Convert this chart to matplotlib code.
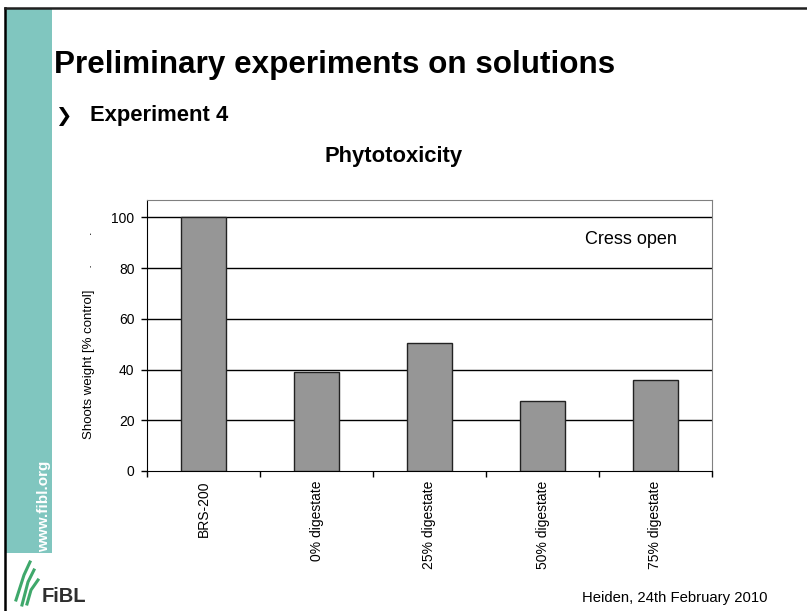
import matplotlib
matplotlib.use("Agg")
import matplotlib.pyplot as plt
from matplotlib.lines import Line2D
from matplotlib.patches import Rectangle

# ---- data ----
categories = ["BRS-200", "0% digestate", "25% digestate", "50% digestate", "75% digestate"]
values = [100, 38.9, 50.6, 27.7, 35.7]
yticks = [0, 20, 40, 60, 80, 100]

plt.rcParams['font.family'] = ['Liberation Sans', 'DejaVu Sans']

W, H = 807, 611
fig = plt.figure(figsize=(W / 100, H / 100), dpi=100)
fig.patch.set_facecolor("white")

def fx(x):
    return x / W

def fy(y):
    return 1 - y / H

# slide frame and sidebar
fig.add_artist(Rectangle((fx(6), fy(553)), fx(52) - fx(6), fy(9) - fy(553),
                         transform=fig.transFigure, facecolor="#80C6BF", edgecolor="none"))
fig.add_artist(Line2D([fx(4.5), fx(4.5)], [fy(8), 0], transform=fig.transFigure,
                      color="black", lw=1.8))
fig.add_artist(Line2D([fx(4.5), 1], [fy(8), fy(8)], transform=fig.transFigure,
                      color="#202020", lw=1.8))

# texts
fig.text(fx(54), fy(73), "Preliminary experiments on solutions", fontsize=22.6,
         fontweight="bold", ha="left", va="baseline")
fig.text(fx(55), fy(121), "\u276F", fontsize=14, fontweight="bold", ha="left",
         va="baseline", family=["DejaVu Sans"])
fig.text(fx(90), fy(121), "Experiment 4", fontsize=15.8, fontweight="bold",
         ha="left", va="baseline")
fig.text(fx(393.5), fy(162), "Phytotoxicity", fontsize=15.8, fontweight="bold",
         ha="center", va="baseline")
fig.text(fx(768), fy(602), "Heiden, 24th February 2010", fontsize=10.7,
         ha="right", va="baseline")
fig.text(fx(44.5), fy(552), "www.fibl.org", fontsize=11, fontweight="bold",
         color="white", rotation=90, ha="center", va="bottom")

# FiBL logo (simple)
for xs, ys in [([16, 24, 30], [600, 575, 562]), ([22, 28, 34], [605, 582, 570]),
               ([27, 31, 38], [604, 590, 580])]:
    fig.add_artist(Line2D([fx(v) for v in xs], [fy(v) for v in ys],
                          transform=fig.transFigure, color="#3FA86B", lw=2.2))
fig.text(fx(42), fy(602), "FiBL", fontsize=14.5, fontweight="bold", color="#2E2E2E",
         ha="left", va="baseline")

# chart
ax = fig.add_axes([147 / W, 1 - 471 / H, 565 / W, 271 / H])
x = list(range(len(categories)))
ax.bar(x, values, width=0.4, color="#969696", edgecolor="#222222", linewidth=1, zorder=3)

ax.set_xlim(-0.5, len(categories) - 0.5)
ax.set_ylim(0, 106.8)
ax.set_yticks(yticks)
ax.set_yticklabels([str(v) for v in yticks], fontsize=10)
for v in yticks[1:]:
    ax.axhline(v, color="black", lw=1, zorder=1)

ax.set_xticks([i - 0.5 for i in range(len(categories) + 1)])
ax.set_xticklabels([])
ax.set_xticks(x, minor=True)
ax.set_xticklabels(categories, minor=True, rotation=90, fontsize=10, va="top")
ax.tick_params(axis="x", which="minor", length=0, pad=7)
ax.tick_params(axis="x", which="major", length=4, direction="out", width=1)
ax.tick_params(axis="y", length=4, direction="out", width=1, pad=5)

for s in ["top", "right"]:
    ax.spines[s].set_color("#808080")
for s in ["left", "bottom"]:
    ax.spines[s].set_color("black")

ax.set_ylabel("Shoots weight [% control]      .        .", fontsize=9.5)
ax.yaxis.set_label_coords((95 - 147) / 565, 0.5)

ax.text(0.938, 0.856, "Cress open", transform=ax.transAxes, fontsize=13,
        ha="right", va="center")

fig.savefig("out.png", dpi=100, facecolor="white")
